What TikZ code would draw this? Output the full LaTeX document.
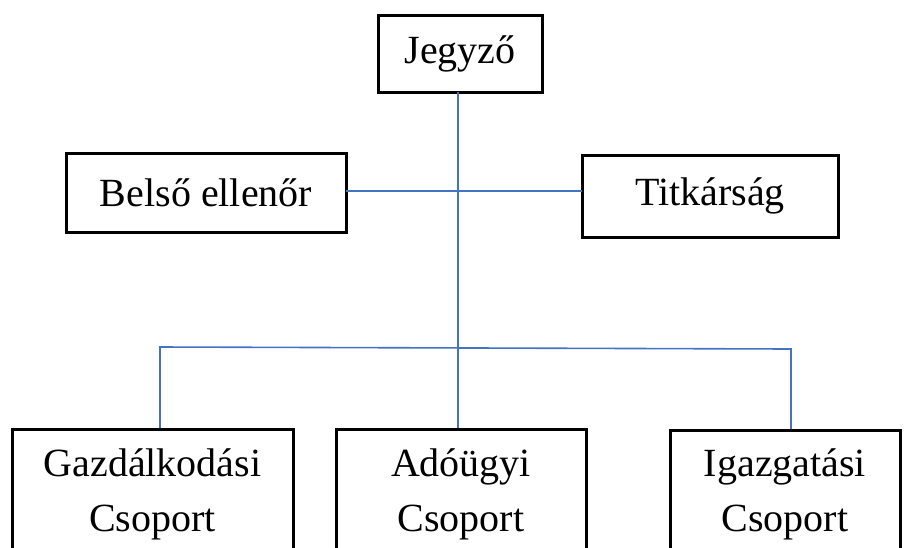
\documentclass[tikz,border=0pt]{standalone}
\usepackage{fontspec}
\setmainfont{Liberation Serif}
\definecolor{linkblue}{HTML}{4472C4}
\begin{document}
\begin{tikzpicture}[x=1pt,y=-1pt,
  box/.style={draw=black, line width=3pt, inner sep=0pt},
  txt/.style={font=\fontsize{40}{55}\selectfont, inner sep=0pt, align=center},
  link/.style={draw=linkblue, line width=1.6pt}]
\clip (0,0) rectangle (910,547);
\useasboundingbox (0,0) rectangle (910,547);
% top boxes
\node[box, minimum width=164pt, minimum height=77pt, txt] (jegy) at (460,53.5) {Jegyző};
\node[box, minimum width=280pt, minimum height=79pt, txt] (belso) at (206,192.5) {Belső ellenőr};
\node[box, minimum width=256pt, minimum height=82pt, txt] (titk) at (710,196) {Titkárság};
% bottom boxes (cut by the page edge)
\node[box, minimum width=281pt, minimum height=160pt, anchor=north] (gazd) at (152.5,428) {};
\node[box, minimum width=250pt, minimum height=160pt, anchor=north] (ado) at (461,428) {};
\node[box, minimum width=230pt, minimum height=160pt, anchor=north] (igaz) at (785,429) {};
\node[txt, anchor=base] (gazdt) at (152.5,531) {Gazdálkodási\\Csoport};
\node[txt, anchor=base] (adot) at (461,531) {Adóügyi\\Csoport};
\node[txt, anchor=base] (igazt) at (785,531) {Igazgatási\\Csoport};
% connectors
\coordinate (jtop) at (458,92);
\coordinate (abot) at (458,428);
\coordinate (bl) at (346,191);
\coordinate (br) at (582,191);
\coordinate (hl) at (160,347);
\coordinate (hr) at (791,349);
\coordinate (gl) at (160,428);
\coordinate (ir) at (791,429);
\draw[link] (jtop) -- (abot);
\draw[link] (bl) -- (br);
\draw[link] (gl) -- (hl) -- (hr) -- (ir);
\end{tikzpicture}
\end{document}
